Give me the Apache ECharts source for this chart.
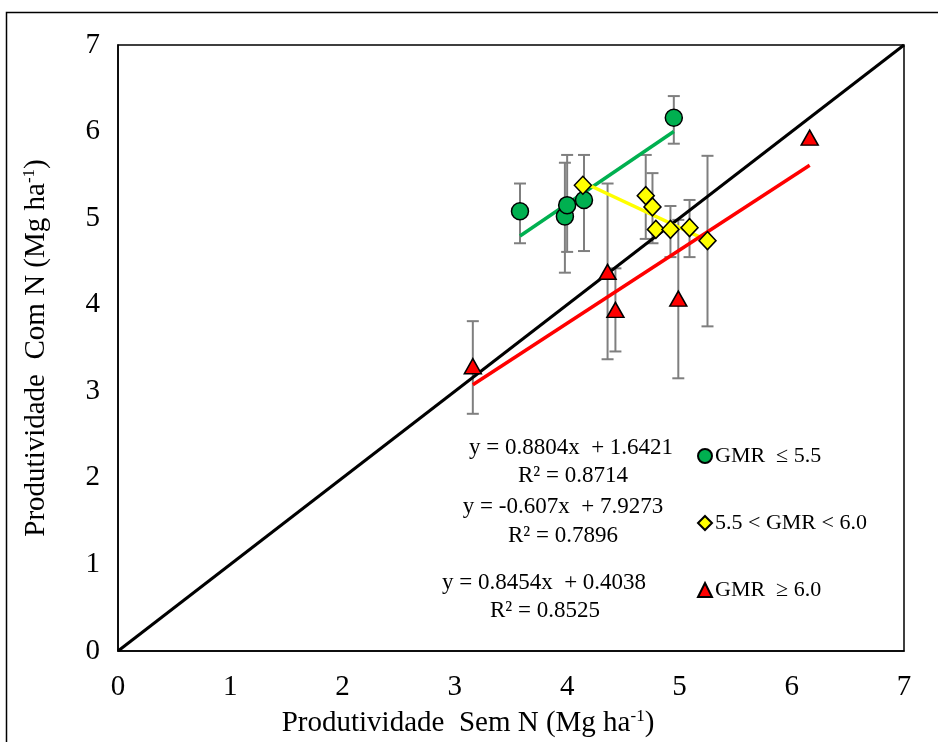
<!DOCTYPE html>
<html>
<head>
<meta charset="utf-8">
<script src="https://cdn.jsdelivr.net/npm/echarts@6/dist/echarts.min.js"></script>
<style>
  html, body { margin: 0; padding: 0; background: #fff; }
  #chart { width: 938px; height: 742px; }
</style>
</head>
<body>
<div id="chart"></div>
<script>
// Axis setup
const axisMin = 0;
const axisMax = 7;
const tickLabels = ['0', '1', '2', '3', '4', '5', '6', '7'];

// GMR <= 5.5
const greenX    = [3.58, 3.98, 4.00, 4.15, 4.95];
const greenY    = [5.08, 5.02, 5.15, 5.21, 6.16];
const greenLow  = [4.71, 4.37, 4.61, 4.62, 5.86];
const greenHigh = [5.40, 5.64, 5.73, 5.73, 6.41];

// 5.5 < GMR < 6.0
const yellowX    = [4.14, 4.70, 4.76, 4.79, 4.92, 5.09, 5.25];
const yellowY    = [5.38, 5.26, 5.13, 4.87, 4.87, 4.89, 4.74];
const yellowLow  = [null, 4.76, 4.71, null, 4.55, 4.55, 3.75];
const yellowHigh = [null, 5.73, 5.52, null, 5.14, 5.21, 5.72];

// GMR >= 6.0
const redX    = [3.16, 4.36, 4.43, 4.99, 6.16];
const redY    = [3.29, 4.38, 3.94, 4.07, 5.93];
const redLow  = [2.74, 3.37, 3.46, 3.15, null];
const redHigh = [3.81, 5.40, 4.42, 4.98, null];

// Linear fits: [slope, intercept, R²]
const greenFit  = [0.8804, 1.6421, 0.8714];
const yellowFit = [-0.607, 7.9273, 0.7896];
const redFit    = [0.8454, 0.4038, 0.8525];

const seriesNames = ['GMR  \u2264 5.5', '5.5 < GMR < 6.0', 'GMR  \u2265 6.0'];

const FONT = "'Liberation Serif', 'Times New Roman', serif";

function pairs(xs, ys) { return xs.map((x, i) => [x, ys[i]]); }
function bars(xs, lo, hi) {
  const out = [];
  xs.forEach((x, i) => { if (lo[i] != null && hi[i] != null) out.push([x, lo[i], hi[i]]); });
  return out;
}
function fitLine(xs, fit) {
  const a = Math.min(...xs), b = Math.max(...xs);
  return [[a, fit[0] * a + fit[1]], [b, fit[0] * b + fit[1]]];
}
function eqText(fit) {
  return 'y = ' + fit[0] + 'x  + ' + fit[1];
}

const allBars = bars(greenX, greenLow, greenHigh)
  .concat(bars(yellowX, yellowLow, yellowHigh))
  .concat(bars(redX, redLow, redHigh));

function renderBar(params, api) {
  const x = api.value(0);
  const top = api.coord([x, api.value(2)]);
  const bot = api.coord([x, api.value(1)]);
  const cap = 6;
  const style = { stroke: '#7f7f7f', lineWidth: 2 };
  return {
    type: 'group',
    children: [
      { type: 'line', shape: { x1: top[0], y1: top[1], x2: bot[0], y2: bot[1] }, style },
      { type: 'line', shape: { x1: top[0] - cap, y1: top[1], x2: top[0] + cap, y2: top[1] }, style },
      { type: 'line', shape: { x1: bot[0] - cap, y1: bot[1], x2: bot[0] + cap, y2: bot[1] }, style }
    ]
  };
}

const chart = echarts.init(document.getElementById('chart'), null, { renderer: 'canvas' });

const eqStyle = { font: '23px ' + FONT, fill: '#000', textAlign: 'center', textVerticalAlign: 'middle' };
const supRich = { s: { fontSize: 17, fontFamily: FONT, verticalAlign: 'top', padding: [0, 0, 13, 0] } };

const option = {
  animation: false,
  backgroundColor: '#fff',
  textStyle: { fontFamily: FONT },
  grid: {
    left: 118, top: 45, width: 786, height: 606,
    show: true, borderColor: '#000', borderWidth: 1.5, backgroundColor: 'transparent'
  },
  xAxis: {
    type: 'value', min: axisMin, max: axisMax, interval: 1,
    axisLine: { show: true, lineStyle: { color: '#000', width: 1.5 } },
    axisTick: { show: false },
    splitLine: { show: false },
    axisLabel: {
      color: '#000', fontSize: 29, fontFamily: FONT, margin: 22,
      formatter: v => tickLabels[Math.round(v)]
    }
  },
  yAxis: {
    type: 'value', min: axisMin, max: axisMax, interval: 1,
    axisLine: { show: true, lineStyle: { color: '#000', width: 1.5 } },
    axisTick: { show: false },
    splitLine: { show: false },
    axisLabel: {
      color: '#000', fontSize: 29, fontFamily: FONT, margin: 18,
      formatter: v => tickLabels[Math.round(v)]
    }
  },
  legend: {
    orient: 'vertical',
    left: 692, top: 439,
    itemWidth: 14, itemHeight: 14,
    itemGap: 43,
    selectedMode: false,
    textStyle: { color: '#000', fontSize: 22, fontFamily: FONT, lineHeight: 24, padding: [0, 0, 0, -2] },
    data: seriesNames
  },
  graphic: [
    // outer frame
    { type: 'rect', left: 4, top: 10, shape: { width: 1000, height: 1000 },
      style: { fill: 'none', stroke: '#000', lineWidth: 1.5 }, silent: true },
    // axis titles
    { type: 'text', x: 468, y: 723,
      style: { text: 'Produtividade  Sem N (Mg ha{s|-1})', font: '29px ' + FONT, fill: '#000',
        textAlign: 'center', textVerticalAlign: 'middle', rich: supRich } },
    { type: 'text', x: 36, y: 348, rotation: Math.PI / 2,
      style: { text: 'Produtividade  Com N (Mg ha{s|-1})', font: '29px ' + FONT, fill: '#000',
        textAlign: 'center', textVerticalAlign: 'middle', rich: supRich } },
    // regression equations
    { type: 'text', x: 571, y: 448, style: Object.assign({ text: eqText(greenFit) }, eqStyle) },
    { type: 'text', x: 573, y: 476, style: Object.assign({ text: 'R\u00b2 = ' + greenFit[2] }, eqStyle) },
    { type: 'text', x: 563, y: 507, style: Object.assign({ text: eqText(yellowFit) }, eqStyle) },
    { type: 'text', x: 563, y: 536, style: Object.assign({ text: 'R\u00b2 = ' + yellowFit[2] }, eqStyle) },
    { type: 'text', x: 544, y: 583, style: Object.assign({ text: eqText(redFit) }, eqStyle) },
    { type: 'text', x: 545, y: 611, style: Object.assign({ text: 'R\u00b2 = ' + redFit[2] }, eqStyle) }
  ],
  series: [
    {
      type: 'custom', name: 'erro', renderItem: renderBar, data: allBars,
      encode: { x: 0, y: [1, 2] }, z: 1, silent: true
    },
    {
      type: 'line', name: '1:1', data: [[axisMin, axisMin], [axisMax, axisMax]],
      symbol: 'none', lineStyle: { color: '#000', width: 3 }, z: 2, silent: true
    },
    {
      type: 'line', name: 'fitGreen', data: fitLine(greenX, greenFit),
      symbol: 'none', lineStyle: { color: '#00B050', width: 3.5 }, z: 3, silent: true
    },
    {
      type: 'line', name: 'fitYellow', data: fitLine(yellowX, yellowFit),
      symbol: 'none', lineStyle: { color: '#FFFF00', width: 3.5 }, z: 3, silent: true
    },
    {
      type: 'line', name: 'fitRed', data: fitLine(redX, redFit),
      symbol: 'none', lineStyle: { color: '#FF0000', width: 3.5 }, z: 3, silent: true
    },
    {
      type: 'scatter', name: seriesNames[0], data: pairs(greenX, greenY),
      symbol: 'circle', symbolSize: 17,
      itemStyle: { color: '#00B050', borderColor: '#000', borderWidth: 1.5, opacity: 1 }, z: 4
    },
    {
      type: 'scatter', name: seriesNames[1], data: pairs(yellowX, yellowY),
      symbol: 'diamond', symbolSize: [17, 18],
      itemStyle: { color: '#FFFF00', borderColor: '#000', borderWidth: 1.5, opacity: 1 }, z: 4
    },
    {
      type: 'scatter', name: seriesNames[2], data: pairs(redX, redY),
      symbol: 'triangle', symbolSize: [17, 15],
      itemStyle: { color: '#FF0000', borderColor: '#000', borderWidth: 1.5, opacity: 1 }, z: 4
    }
  ]
};

chart.setOption(option);
</script>
</body>
</html>
